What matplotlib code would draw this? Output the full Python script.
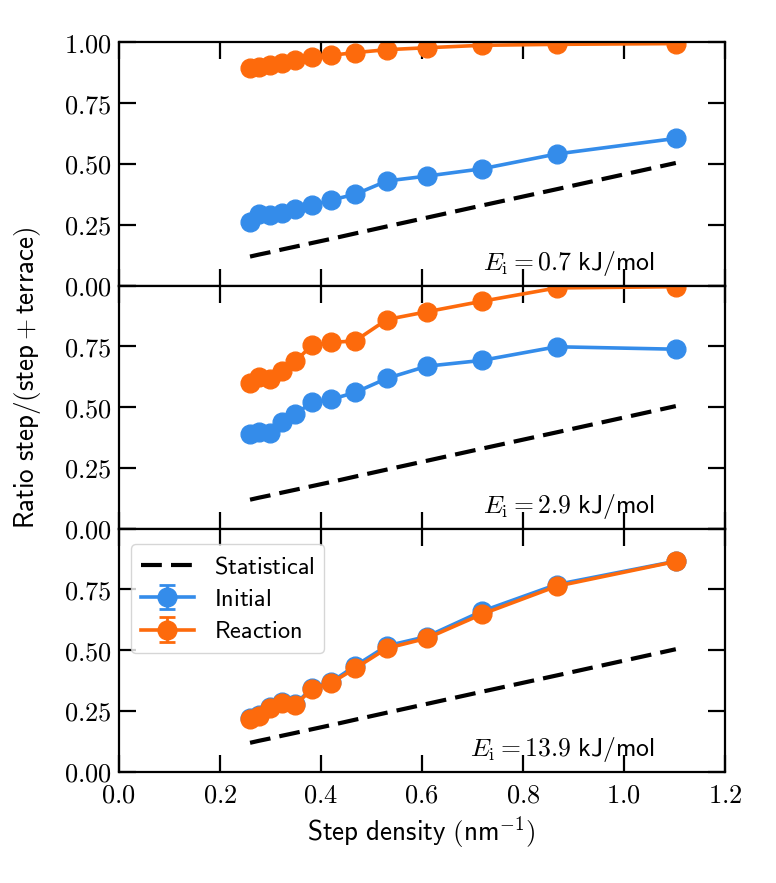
import numpy as np
import matplotlib
matplotlib.use("Agg")
import matplotlib.pyplot as plt
from matplotlib.ticker import FuncFormatter

plt.rcParams['mathtext.fontset'] = 'cm'
plt.rcParams['font.family'] = ['DejaVu Sans']

# step densities (nm^-1)
density = [0.26, 0.277, 0.30, 0.323, 0.35, 0.383, 0.421, 0.468, 0.531, 0.61, 0.719, 0.867, 1.103]

# statistical ratio (straight line)
statistical = [0.119, 0.127, 0.137, 0.148, 0.160, 0.175, 0.192, 0.214, 0.243, 0.279, 0.329, 0.396, 0.504]

# panel 1: E_i = 0.7 kJ/mol
init_1 = [0.262, 0.295, 0.292, 0.300, 0.314, 0.330, 0.352, 0.375, 0.430, 0.450, 0.480, 0.541, 0.605]
react_1 = [0.895, 0.897, 0.905, 0.915, 0.926, 0.938, 0.947, 0.958, 0.970, 0.978, 0.988, 0.992, 0.995]

# panel 2: E_i = 2.9 kJ/mol
init_2 = [0.389, 0.398, 0.392, 0.440, 0.470, 0.522, 0.532, 0.560, 0.618, 0.668, 0.692, 0.748, 0.738]
react_2 = [0.600, 0.622, 0.615, 0.648, 0.689, 0.755, 0.766, 0.772, 0.860, 0.892, 0.935, 0.990, 0.995]

# panel 3: E_i = 13.9 kJ/mol
init_3 = [0.222, 0.235, 0.268, 0.285, 0.279, 0.345, 0.370, 0.435, 0.518, 0.556, 0.660, 0.770, 0.866]
react_3 = [0.215, 0.228, 0.262, 0.282, 0.276, 0.340, 0.366, 0.425, 0.508, 0.549, 0.648, 0.763, 0.865]

# uncertainties
err_init = [0.012, 0.012, 0.01, 0.012, 0.012, 0.01, 0.01, 0.01, 0.01, 0.008, 0.008, 0.008, 0.006]
err_react = [0.014, 0.014, 0.012, 0.014, 0.014, 0.012, 0.01, 0.012, 0.01, 0.008, 0.008, 0.006, 0.006]

energies = ['0.7', '2.9', '13.9']
initial = [init_1, init_2, init_3]
reaction = [react_1, react_2, react_3]

blue = '#348cea'
orange = '#fd6a0c'

fig, axes = plt.subplots(3, 1, figsize=(7.76, 8.83), dpi=100, sharex=True)
fig.subplots_adjust(left=0.153, right=0.934, bottom=0.126, top=0.952, hspace=0)

for i, ax in enumerate(axes):
    ax.plot(density, statistical, '--', color='black', lw=3, dashes=(5, 2.2),
            label=r'$\mathsf{Statistical}$')
    ax.errorbar(density, initial[i], yerr=err_init, fmt='o-', color=blue, lw=2.6, ms=13.5,
                capsize=6, capthick=2, elinewidth=2, label=r'$\mathsf{Initial}$')
    ax.errorbar(density, reaction[i], yerr=err_react, fmt='o-', color=orange, lw=2.6, ms=13.5,
                capsize=6, capthick=2, elinewidth=2, label=r'$\mathsf{Reaction}$')

    ax.set_xlim(0, 1.2)
    ax.set_ylim(0, 1)
    ax.set_xticks(np.arange(0, 1.21, 0.2))
    ax.set_yticks([0, 0.25, 0.5, 0.75, 1.0])
    if i == 0:
        ax.yaxis.set_major_formatter(FuncFormatter(lambda v, p: '$%.2f$' % v))
    else:
        ax.yaxis.set_major_formatter(FuncFormatter(lambda v, p: '' if v > 0.99 else '$%.2f$' % v))
    ax.xaxis.set_major_formatter(FuncFormatter(lambda v, p: '$%.1f$' % v))
    ax.tick_params(direction='in', length=12, width=1.6, top=True, right=True, labelsize=19, pad=5)
    ax.tick_params(axis='x', pad=8)
    for s in ax.spines.values():
        s.set_linewidth(1.6)

    ax.text(0.885, 0.065, r'$E_\mathrm{i} = %s\ \mathsf{kJ/mol}$' % energies[i],
            transform=ax.transAxes, ha='right', va='baseline', fontsize=18.5)

axes[2].legend(loc='upper left', fontsize=17.5, framealpha=0.8, handlelength=2.2,
               borderpad=0.4, labelspacing=0.35, bbox_to_anchor=(0.0, 0.985))

axes[2].set_xlabel(r'$\mathsf{Step\ density\ (nm}^{-1}\mathsf{)}$', fontsize=19.5)
axes[1].set_ylabel(r'$\mathsf{Ratio\ step/(step+terrace)}$', fontsize=19.5)
axes[1].yaxis.set_label_coords(-0.125, 0.62)

plt.savefig('out.png', dpi=100)
